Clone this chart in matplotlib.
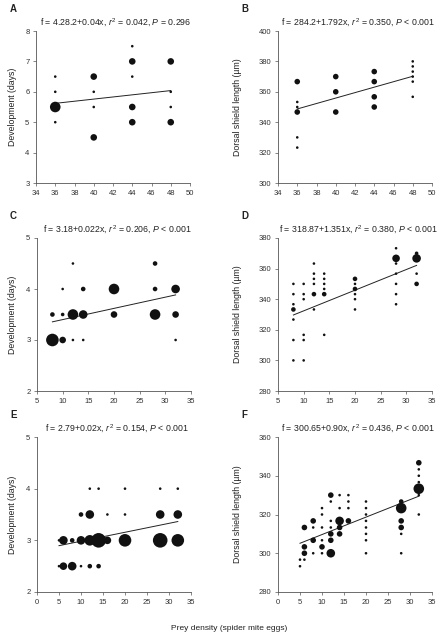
import numpy as np
import matplotlib
matplotlib.use("Agg")
import matplotlib.pyplot as plt

plt.rcParams['font.family'] = ['Liberation Sans', 'DejaVu Sans']
plt.rcParams['mathtext.fontset'] = 'custom'
plt.rcParams['mathtext.rm'] = 'Liberation Sans'
plt.rcParams['mathtext.it'] = 'Liberation Sans:italic'
plt.rcParams['mathtext.bf'] = 'Liberation Sans:bold'

# ---------------- data (x = prey density, y = value, n = relative dot size) ----
a_x = [36, 36, 36, 36, 40, 40, 40, 40, 44, 44, 44, 44, 44, 48, 48, 48, 48]
a_y = [6.5, 6.0, 5.5, 5.0, 6.5, 6.0, 5.5, 4.5, 7.5, 7.0, 6.5, 5.5, 5.0, 7.0, 6.0, 5.5, 5.0]
a_n = [1, 1, 5, 1, 3, 1, 1, 3, 1, 3, 1, 3, 3, 3, 1, 1, 3]

b_x = [36, 36, 36, 36, 36, 36, 40, 40, 40, 44, 44, 44, 44, 48, 48, 48, 48, 48, 48]
b_y = [366.7, 353.3, 350, 346.7, 330, 323.3, 370, 360, 346.7,
       373.3, 366.7, 356.7, 350, 380, 376.7, 373.3, 370, 366.7, 356.7]
b_n = [2.5, 1, 1, 2.5, 1, 1, 2.5, 2.5, 2.5, 2.5, 2.5, 2.5, 2.5, 1, 1, 1, 1, 1, 1]

c_x = [8, 8, 10, 10, 10, 12, 12, 12, 14, 14, 14, 20, 20, 28, 28, 28, 32, 32, 32]
c_y = [3.5, 3.0, 4.0, 3.5, 3.0, 4.5, 3.5, 3.0, 4.0, 3.5, 3.0, 4.0, 3.5, 4.5, 4.0, 3.5, 4.0, 3.5, 3.0]
c_n = [2, 6, 1, 1.5, 3, 1, 5, 1, 2, 4, 1, 5, 3, 2, 2, 5, 4, 3, 1]

d_x = [8, 8, 8, 8, 8, 8, 8,
       10, 10, 10, 10, 10, 10,
       12, 12, 12, 12, 12, 12,
       14, 14, 14, 14, 14, 14,
       20, 20, 20, 20, 20, 20,
       28, 28, 28, 28, 28, 28, 28,
       32, 32, 32, 32]
d_y = [350, 343.3, 336.7, 333.3, 326.7, 313.3, 300,
       350, 343.3, 340, 316.7, 313.3, 300,
       363.3, 356.7, 353.3, 350, 343.3, 333.3,
       356.7, 353.3, 350, 346.7, 343.3, 316.7,
       353.3, 350, 346.7, 343.3, 340, 333.3,
       373.3, 366.7, 363.3, 356.7, 350, 343.3, 336.7,
       370, 366.7, 356.7, 350]
d_n = [1, 1, 1, 2, 1, 1, 1,
       1, 1, 1, 1, 1, 1,
       1, 1, 1, 1, 2, 1,
       1, 1, 1, 1, 2, 1,
       2, 1, 2, 1, 1, 1,
       1, 3.5, 1, 1, 1, 1, 1,
       1.5, 4, 1, 2]

e_x = [5, 6, 8, 10, 12, 14, 16, 20, 28, 32,
       5, 6, 8, 10, 12, 14,
       10, 12, 16, 20, 28, 32,
       12, 14, 20, 28, 32]
e_y = [3.0] * 10 + [2.5] * 6 + [3.5] * 6 + [4.0] * 5
e_n = [1, 4, 2, 4, 5, 7, 3.5, 6, 7, 6,
       1, 3.5, 4, 1, 2, 2,
       2, 4, 1, 1, 4, 4,
       1, 1, 1, 1, 1]

f_x = [5, 5,
       6, 6, 6, 6,
       8, 8, 8, 8,
       10, 10, 10, 10, 10, 10,
       12, 12, 12, 12, 12, 12, 12,
       14, 14, 14, 14, 14,
       16, 16, 16, 16,
       20, 20, 20, 20, 20, 20, 20, 20,
       28, 28, 28, 28, 28, 28,
       32, 32, 32, 32, 32, 32, 32]
f_y = [296.7, 293.3,
       313.3, 303.3, 300, 296.7,
       316.7, 313.3, 306.7, 300,
       323.3, 320, 313.3, 306.7, 303.3, 300,
       330, 326.7, 316.7, 313.3, 310, 306.7, 300,
       330, 323.3, 316.7, 313.3, 310,
       330, 326.7, 323.3, 316.7,
       326.7, 323.3, 320, 316.7, 313.3, 310, 306.7, 300,
       326.7, 323.3, 316.7, 313.3, 310, 300,
       346.7, 343.3, 340, 336.7, 333.3, 330, 320]
f_n = [1, 1,
       2.5, 2.5, 2.5, 1,
       2.5, 1, 2.5, 1,
       1, 1, 1, 1, 2.5, 1,
       2.5, 1, 1, 1, 2.5, 2.5, 4,
       1, 1, 4, 2.5, 2.5,
       1, 1, 1, 2.5,
       1, 1, 1, 1, 1, 1, 1, 1,
       2, 5, 2.5, 2.5, 1, 1,
       2.5, 1, 1, 1, 5, 1, 1]

# regression lines: intercept, slope, x range
fits = {
    "A": (4.36, 0.035, 36, 48),
    "B": (284.2, 1.792, 36, 48),
    "C": (3.18, 0.022, 8, 32),
    "D": (318.87, 1.351, 8, 32),
    "E": (2.81, 0.0173, 5, 32),
    "F": (300.65, 0.90, 5, 32),
}

titles = {
    "A": r"f = 4.28.2+0.04x, $\mathit{r}^2$ = 0.042, $\mathit{P}$ = 0.296",
    "B": r"f = 284.2+1.792x, $\mathit{r}^2$ = 0.350, $\mathit{P}$ < 0.001",
    "C": r"f = 3.18+0.022x, $\mathit{r}^2$ = 0.206, $\mathit{P}$ < 0.001",
    "D": r"f = 318.87+1.351x, $\mathit{r}^2$ = 0.380, $\mathit{P}$ < 0.001",
    "E": r"f = 2.79+0.02x, $\mathit{r}^2$ = 0.154, $\mathit{P}$ < 0.001",
    "F": r"f = 300.65+0.90x, $\mathit{r}^2$ = 0.436, $\mathit{P}$ < 0.001",
}

xlims = {"A": (34, 50), "B": (34, 50), "C": (5, 35), "D": (5, 35), "E": (0, 35), "F": (0, 35)}
xsteps = {"A": 2, "B": 2, "C": 5, "D": 5, "E": 5, "F": 5}
ylims = {"A": (3, 8), "B": (300, 400), "C": (2, 5), "D": (280, 380), "E": (2, 5), "F": (280, 360)}
ysteps = {"A": 1, "B": 20, "C": 1, "D": 20, "E": 1, "F": 20}

panels = {
    "A": (a_x, a_y, a_n), "B": (b_x, b_y, b_n),
    "C": (c_x, c_y, c_n), "D": (d_x, d_y, d_n),
    "E": (e_x, e_y, e_n), "F": (f_x, f_y, f_n),
}

# ---------------- layout ----------------
W, H = 445, 639
fig = plt.figure(figsize=(W / 100, H / 100), dpi=100)

cols = {"A": 36, "C": 37, "E": 37, "B": 278, "D": 278, "F": 278}
rows = {"A": (31, 183), "B": (31, 183), "C": (238, 391), "D": (238, 391),
        "E": (437, 592), "F": (437, 592)}
axw = 154

txt = '#222222'
spine_c = '#555555'


def size_from_n(n):
    d_px = 0.6 + 2.0 * np.asarray(n, dtype=float)
    return (d_px * 0.72) ** 2


for key, (xs, ys, ns) in panels.items():
    top, bot = rows[key]
    ax = fig.add_axes([cols[key] / W, 1 - bot / H, axw / W, (bot - top) / H])
    ax.scatter(xs, ys, s=size_from_n(ns), color='#111111', linewidths=0, zorder=3)

    b0, b1, x0, x1 = fits[key]
    lx = np.array([x0, x1])
    ax.plot(lx, b0 + b1 * lx, color='#222222', lw=0.7, zorder=2)

    ax.set_xlim(*xlims[key])
    ax.set_ylim(*ylims[key])
    ax.set_xticks(np.arange(xlims[key][0], xlims[key][1] + 0.01, xsteps[key]))
    ax.set_yticks(np.arange(ylims[key][0], ylims[key][1] + 0.01, ysteps[key]))
    for s in ['top', 'right']:
        ax.spines[s].set_visible(False)
    for s in ['left', 'bottom']:
        ax.spines[s].set_color(spine_c)
        ax.spines[s].set_linewidth(0.6)
    ax.tick_params(length=2.2, width=0.5, color=spine_c, labelsize=5.5,
                   labelcolor='#333333', pad=2.5)
    ax.patch.set_visible(False)

    ax.text(0.52, 1.015, titles[key], transform=ax.transAxes, ha='center',
            va='bottom', fontsize=6.3, color=txt)

    # panel letter
    lx_px = 10 if key in "ACE" else 241
    ly_px = top - 22
    fig.text(lx_px / W, 1 - ly_px / H, key, fontsize=7, fontweight='bold',
             color=txt, ha='left', va='center')

    # y label
    ylab = "Development (days)" if key in "ACE" else "Dorsal shield length (\u00b5m)"
    yl_px = 12.5 if key in "ACE" else 238
    fig.text(yl_px / W, 1 - (top + bot) / 2 / H, ylab, rotation=90, fontsize=6.3,
             color=txt, ha='center', va='center')

fig.text(229 / W, 1 - 629 / H, "Prey density (spider mite eggs)", fontsize=6,
         color=txt, ha='center', va='center')

fig.savefig("out.png", dpi=100)
